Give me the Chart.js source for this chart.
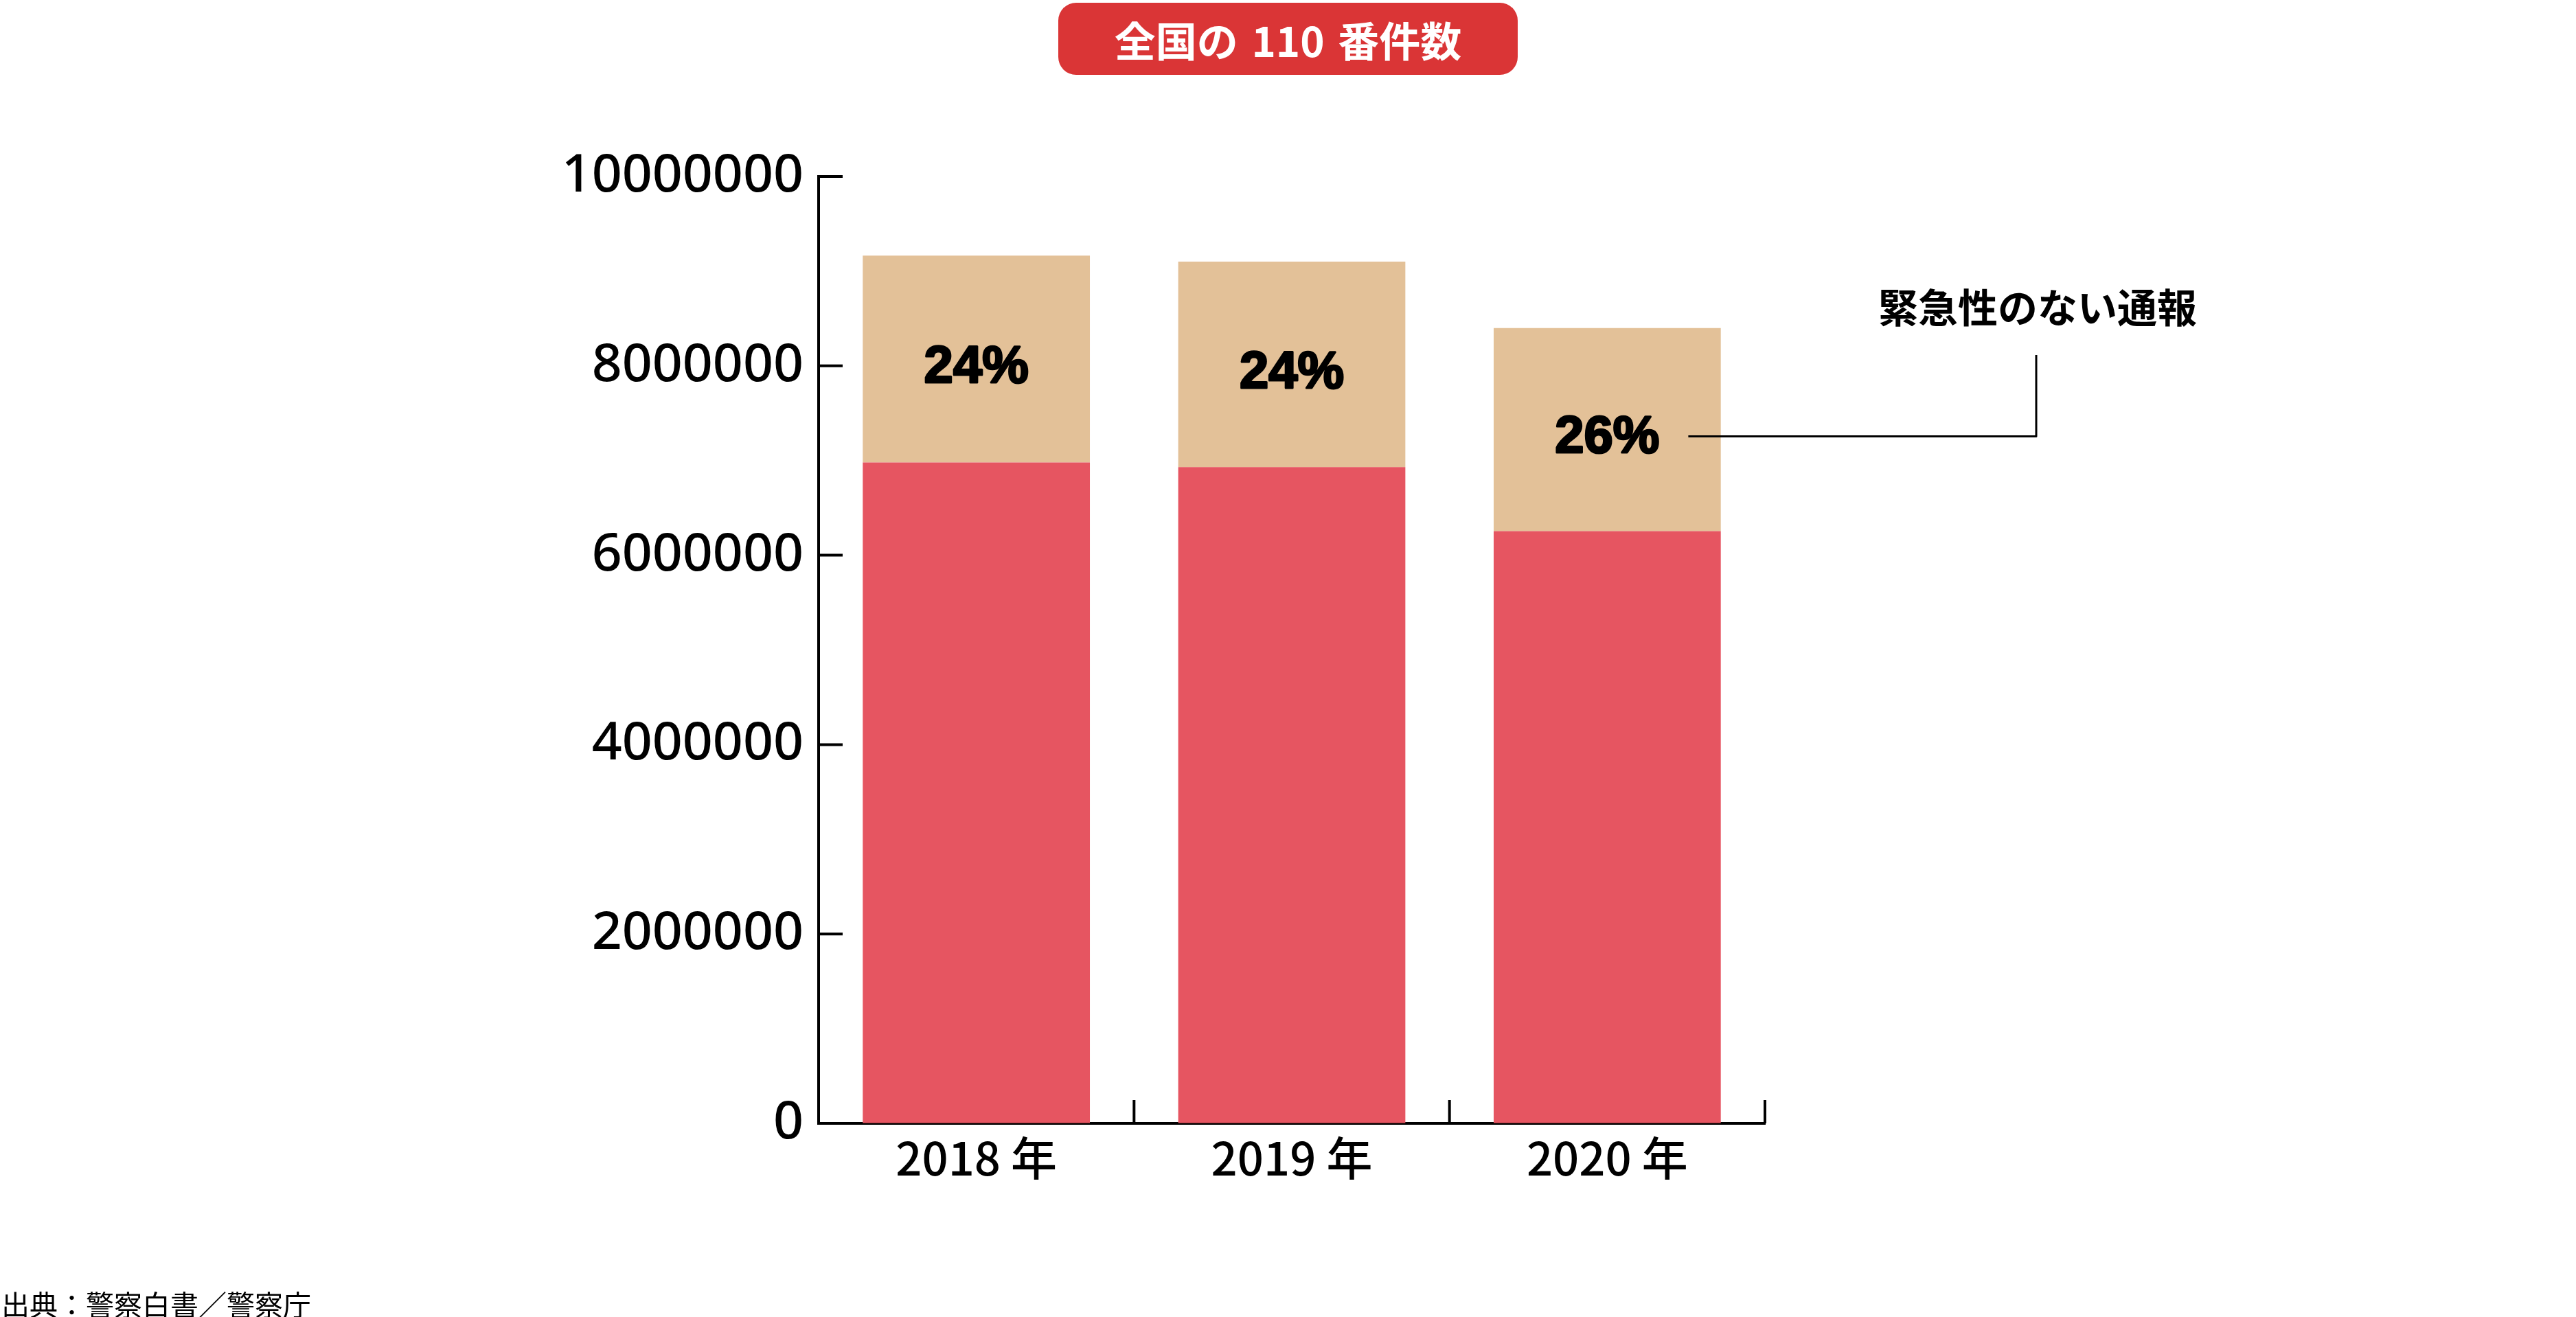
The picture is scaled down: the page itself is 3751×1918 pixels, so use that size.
<!DOCTYPE html>
<html>
<head>
<meta charset="utf-8">
<script src="https://cdn.jsdelivr.net/npm/chart.js@4"></script>
<style>
  body { margin: 0; background: #fff; }
  #wrap { position: relative; width: 3751px; height: 1918px; overflow: hidden; }
  #title-box {
    position: absolute; left: 1541px; top: 4px; width: 669px; height: 105px;
    background: #da3536; border-radius: 26px; color: #fff;
    font-family: "Noto Sans CJK JP", sans-serif; font-weight: 700; font-size: 60px;
    display: flex; align-items: center; justify-content: center;
    word-spacing: 6px;
  }
  #source {
    position: absolute; left: 2px; top: 1868px;
    font-family: "Noto Sans CJK JP", sans-serif; font-size: 41px; color: #000;
  }
</style>
</head>
<body>
<div id="wrap">
  <canvas id="calls-chart"></canvas>
  <div id="title-box">全国の 110 番件数</div>
  <div id="source">出典：警察白書／警察庁</div>
</div>
<script>
// categories
var years = ["2018 年", "2019 年", "2020 年"];
// emergency calls (red part)
var urgent_calls = [6980000, 6930000, 6255000];
// non-urgent calls (beige part)
var non_urgent_calls = [2185000, 2170000, 2145000];
// share labels printed in the beige part
var share_labels = ["24%", "24%", "26%"];
var y_ticks = [0, 2000000, 4000000, 6000000, 8000000, 10000000];
var note_text = "緊急性のない通報";

var red = "#e65561";
var beige = "#e3c198";

// inward tick marks, percent labels and the callout
var extras_plugin = {
  id: "extras",
  afterDraw: function(chart) {
    var ctx = chart.ctx;
    var area = chart.chartArea;
    var xs = chart.scales.x;
    var ys = chart.scales.y;

    ctx.save();
    ctx.strokeStyle = "#000";
    ctx.lineWidth = 4;
    // y ticks pointing right
    ys.ticks.forEach(function(t) {
      if (t.value === 0) return;
      var y = ys.getPixelForValue(t.value);
      ctx.beginPath();
      ctx.moveTo(area.left, y);
      ctx.lineTo(area.left + 35, y);
      ctx.stroke();
    });
    // x ticks on category boundaries pointing up
    var half = (xs.getPixelForValue(1) - xs.getPixelForValue(0)) / 2;
    for (var i = 0; i < years.length; i++) {
      var bx = xs.getPixelForValue(i) + half;
      ctx.beginPath();
      ctx.moveTo(bx, area.bottom);
      ctx.lineTo(bx, area.bottom - 34);
      ctx.stroke();
    }

    // share labels (stroked a bit to look heavier)
    var meta = chart.getDatasetMeta(1);
    ctx.fillStyle = "#000";
    ctx.font = "bold 76px 'Liberation Sans', sans-serif";
    ctx.textAlign = "center";
    ctx.textBaseline = "middle";
    ctx.lineWidth = 3;
    ctx.lineJoin = "round";
    var last_label_end = 0, last_label_y = 0;
    meta.data.forEach(function(bar, i) {
      var cy = (bar.y + bar.base) / 2 + 13;
      ctx.fillText(share_labels[i], bar.x, cy);
      ctx.strokeText(share_labels[i], bar.x, cy);
      last_label_end = bar.x + ctx.measureText(share_labels[i]).width / 2;
      last_label_y = cy;
    });

    // callout line and text
    var line_y = last_label_y - 3;
    var corner_x = 2965;
    ctx.lineWidth = 3;
    ctx.beginPath();
    ctx.moveTo(last_label_end + 42, line_y);
    ctx.lineTo(corner_x, line_y);
    ctx.lineTo(corner_x, 517);
    ctx.stroke();

    ctx.font = "bold 58px 'Noto Sans CJK JP', sans-serif";
    ctx.fillText(note_text, corner_x + 2, 448);
    ctx.restore();
  }
};

function setup_chart() {
  new Chart("calls-chart", {
    type: "bar",
    data: {
      labels: years,
      datasets: [{
        label: "緊急の通報",
        data: urgent_calls,
        backgroundColor: red,
        borderWidth: 0,
        barPercentage: 0.72,
        categoryPercentage: 1
      },
      {
        label: note_text,
        data: non_urgent_calls,
        backgroundColor: beige,
        borderWidth: 0,
        barPercentage: 0.72,
        categoryPercentage: 1
      }]
    },
    options: {
      responsive: true,
      maintainAspectRatio: false,
      devicePixelRatio: 1,
      animation: false,
      layout: {
        padding: {left: 0, top: 257, right: 1181, bottom: 0}
      },
      plugins: {
        legend: {display: false},
        tooltip: {enabled: false}
      },
      scales: {
        x: {
          stacked: true,
          grid: {display: true, drawOnChartArea: false, drawTicks: false},
          border: {display: true, color: "#000", width: 4},
          ticks: {
            color: "#000",
            padding: 10,
            font: {family: "'Noto Sans CJK JP', sans-serif", size: 67, weight: 500}
          },
          afterFit: function(s) { s.height = 1918 - 1636; }
        },
        y: {
          stacked: true,
          min: 0,
          max: 10000000,
          afterBuildTicks: function(s) {
            s.ticks = y_ticks.map(function(v) { return {value: v}; });
          },
          grid: {display: true, drawOnChartArea: false, drawTicks: false},
          border: {display: true, color: "#000", width: 4},
          ticks: {
            color: "#000",
            padding: 22,
            font: {family: "'Noto Sans', sans-serif", size: 77, weight: 500},
            callback: function(v) { return String(v); }
          },
          afterFit: function(s) { s.width = 1192; }
        }
      }
    },
    plugins: [extras_plugin]
  });
}

setup_chart();
</script>
</body>
</html>
